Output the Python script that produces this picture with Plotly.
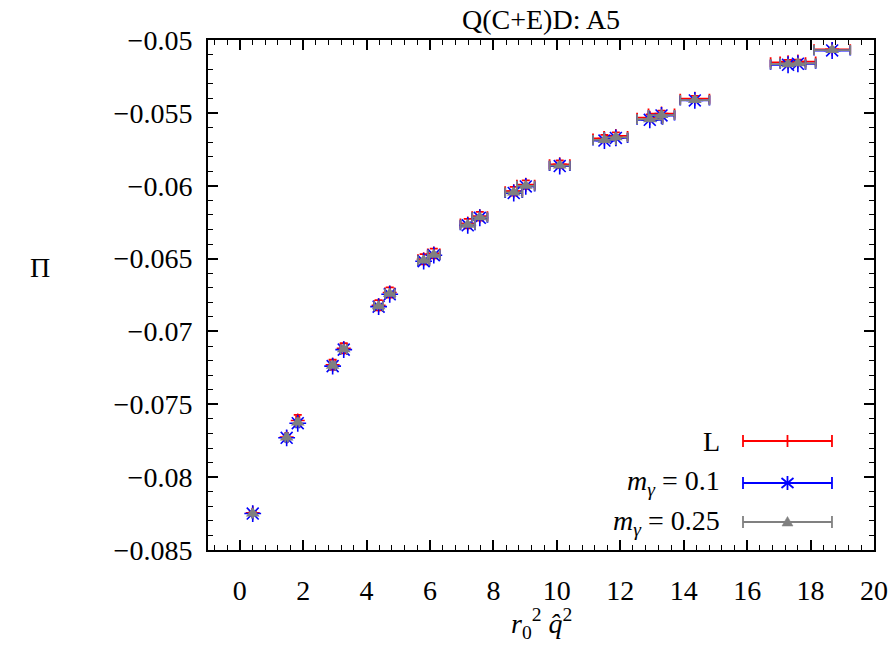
import plotly.graph_objects as go

# ---- data ----
x_vals = [0.41, 1.48, 1.83, 2.93, 3.28, 4.38, 4.73, 5.80, 6.12, 7.19, 7.57,
          8.64, 9.02, 10.09, 11.50, 11.86, 12.93, 13.30, 14.35, 17.29, 17.60, 18.68]
x_err = [0.01, 0.04, 0.05, 0.09, 0.10, 0.14, 0.15, 0.18, 0.19, 0.23, 0.24,
         0.27, 0.28, 0.32, 0.36, 0.37, 0.40, 0.41, 0.46, 0.55, 0.56, 0.57]
pi_L = [-0.08245, -0.07725, -0.07612, -0.07228, -0.07116, -0.06820, -0.06733,
        -0.06505, -0.06465, -0.06260, -0.06210, -0.06038, -0.05993, -0.05853,
        -0.05676, -0.05658, -0.05533, -0.05505, -0.05403, -0.05153, -0.05148, -0.05064]
pi_L_err = [0.00010, 0.00015, 0.00040, 0.00035, 0.00035, 0.00035, 0.00035,
            0.00035, 0.00033, 0.00032, 0.00030, 0.00030, 0.00029, 0.00026,
            0.00025, 0.00024, 0.00023, 0.00021, 0.00019, 0.00016, 0.00014, 0.00012]
pi_m01 = [-0.08250, -0.07730, -0.07630, -0.07238, -0.07125, -0.06830, -0.06745,
          -0.06518, -0.06477, -0.06272, -0.06220, -0.06050, -0.06005, -0.05865,
          -0.05690, -0.05672, -0.05548, -0.05518, -0.05415, -0.05170, -0.05163, -0.05072]
pi_m025 = [-0.08250, -0.07728, -0.07625, -0.07235, -0.07122, -0.06827, -0.06742,
           -0.06514, -0.06474, -0.06268, -0.06217, -0.06046, -0.06001, -0.05862,
           -0.05686, -0.05668, -0.05544, -0.05515, -0.05412, -0.05166, -0.05160, -0.05069]

series_names = ["L", "<i>m</i><sub><i>γ</i></sub> = 0.1", "<i>m</i><sub><i>γ</i></sub> = 0.25"]
colors = ["#ff0000", "#0000ff", "#808080"]

FONT = "Liberation Serif"
FS = 28

fig = go.Figure()

fig.add_trace(go.Scatter(
    x=x_vals, y=pi_L, mode="markers", name=series_names[0],
    marker=dict(symbol="cross-thin-open", size=10, color=colors[0],
                line=dict(color=colors[0], width=1.5)),
    error_x=dict(type="data", array=x_err, color=colors[0], thickness=1.8, width=5),
    error_y=dict(type="data", array=pi_L_err, color=colors[0], thickness=1.8, width=4),
    showlegend=False))

fig.add_trace(go.Scatter(
    x=x_vals, y=pi_m01, mode="markers", name=series_names[1],
    marker=dict(symbol="asterisk-open", size=14, color=colors[1],
                line=dict(color=colors[1], width=1.6)),
    error_x=dict(type="data", array=x_err, color=colors[1], thickness=1.8, width=5),
    showlegend=False))

fig.add_trace(go.Scatter(
    x=x_vals, y=pi_m025, mode="markers", name=series_names[2],
    marker=dict(symbol="triangle-up", size=12, color=colors[2],
                line=dict(width=0)),
    error_x=dict(type="data", array=x_err, color=colors[2], thickness=1.8, width=5),
    showlegend=False))

# ---- gnuplot-style legend (text left, sample right) ----
leg_text_x = 0.772
leg_x0, leg_x1 = 0.8033, 0.9369
leg_xc = (leg_x0 + leg_x1) / 2
leg_ys = [0.2137, 0.1314, 0.0549]

shapes = []
annotations = []
for i, (name, col, yy) in enumerate(zip(series_names, colors, leg_ys)):
    annotations.append(dict(xref="paper", yref="paper", x=leg_text_x, y=yy,
                            xanchor="right", yanchor="middle", text=name,
                            showarrow=False, font=dict(family=FONT, size=FS, color="black")))
    shapes.append(dict(type="line", xref="paper", yref="paper", x0=leg_x0, x1=leg_x1,
                       y0=yy, y1=yy, line=dict(color=col, width=1.8)))
    for xe in (leg_x0, leg_x1):
        shapes.append(dict(type="line", xref="paper", yref="paper", xsizemode="scaled",
                           ysizemode="pixel", yanchor=yy, x0=xe, x1=xe, y0=-6, y1=6,
                           line=dict(color=col, width=1.8)))
    if i == 0:
        shapes.append(dict(type="line", xref="paper", yref="paper", ysizemode="pixel",
                           yanchor=yy, x0=leg_xc, x1=leg_xc, y0=-6, y1=6,
                           line=dict(color=col, width=1.8)))
    elif i == 1:
        for (dx0, dy0, dx1, dy1) in [(0, -7, 0, 7), (-6, -5, 6, 5), (-6, 5, 6, -5)]:
            shapes.append(dict(type="line", xref="paper", yref="paper",
                               xsizemode="pixel", ysizemode="pixel",
                               xanchor=leg_xc, yanchor=yy,
                               x0=dx0, y0=dy0, x1=dx1, y1=dy1,
                               line=dict(color=col, width=1.8)))
    else:
        shapes.append(dict(type="path", xref="paper", yref="paper",
                           xsizemode="pixel", ysizemode="pixel",
                           xanchor=leg_xc, yanchor=yy,
                           path="M -5.5,-4 L 5.5,-4 L 0,5.5 Z",
                           fillcolor=col, line=dict(color=col, width=0.5)))

annotations += [
    dict(xref="paper", yref="paper", x=0.5, y=1.0, yshift=3, xanchor="center",
         yanchor="bottom", text="Q(C+E)D: A5", showarrow=False,
         font=dict(family=FONT, size=FS, color="black")),
    dict(xref="paper", yref="paper", x=-0.252, y=0.553, xanchor="center",
         yanchor="middle", text="Π", showarrow=False,
         font=dict(family=FONT, size=FS, color="black")),
    dict(xref="paper", yref="paper", x=0.5, y=-0.145, xanchor="center",
         yanchor="middle", text="<i>r</i><sub>0</sub><sup>2</sup> <i>q̂</i><sup>2</sup>",
         showarrow=False, font=dict(family=FONT, size=FS, color="black")),
]

tickfont = dict(family=FONT, size=FS, color="black")
axis_common = dict(showline=True, linecolor="black", linewidth=2, mirror="allticks",
                   ticks="inside", ticklen=10, tickwidth=1.5, tickcolor="black",
                   showgrid=False, zeroline=False, automargin=False,
                   ticklabeloverflow="allow")

fig.update_layout(
    width=889, height=653,
    margin=dict(l=208, r=15, t=40, b=103),
    paper_bgcolor="white", plot_bgcolor="white",
    font=dict(family=FONT, size=FS, color="black"),
    xaxis=dict(range=[-1, 20], tick0=0, dtick=2, ticklabelstandoff=14, tickfont=tickfont,
               minor=dict(dtick=0.4, ticks="inside", ticklen=5, tickcolor="black", tickwidth=1.2),
               **axis_common),
    yaxis=dict(range=[-0.085, -0.05], tick0=-0.05, dtick=0.005, ticklabelstandoff=8,
               tickformat=".3~f", tickfont=tickfont,
               minor=dict(dtick=0.001, ticks="inside", ticklen=5, tickcolor="black", tickwidth=1.2),
               **axis_common),
    shapes=shapes, annotations=annotations, showlegend=False,
)

fig.write_html("out.html")
